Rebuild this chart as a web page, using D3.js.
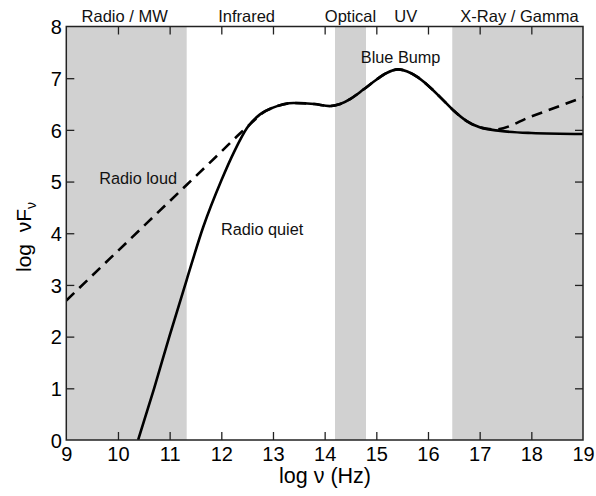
<!DOCTYPE html>
<html><head><meta charset="utf-8">
<script src="https://cdn.jsdelivr.net/npm/d3@7"></script>
<style>body{margin:0;background:#fff}svg{display:block}text{font-family:"Liberation Sans",Arial,Helvetica,sans-serif}</style>
</head><body>
<svg id="c" width="596" height="496"></svg>
<script>
// Data
const xTicks = [9,10,11,12,13,14,15,16,17,18,19];
const yTicks = [0,1,2,3,4,5,6,7,8];
const bands = [
  {name:"Radio / MW", x0:9, x1:11.33, shaded:true, labelX:10.13},
  {name:"Infrared", x0:11.33, x1:14.2, shaded:false, labelX:12.49},
  {name:"Optical", x0:14.2, x1:14.8, shaded:true, labelX:14.5},
  {name:"UV", x0:14.8, x1:16.47, shaded:false, labelX:15.57},
  {name:"X-Ray / Gamma", x0:16.47, x1:19, shaded:true, labelX:17.77}
];
const quietX = [10.39,10.7,11.0,11.33,11.65,12.0,12.25,12.5,12.75,13.0,13.4,13.8,14.1,14.3,14.5,14.75,15.0,15.2,15.42,15.6,15.8,16.0,16.25,16.5,16.75,17.0,17.4,18.0,19.0];
const quietY = [0,1.0,2.02,3.1,4.12,5.02,5.58,6.04,6.3,6.43,6.52,6.5,6.46,6.5,6.6,6.78,6.97,7.1,7.17,7.13,7.02,6.86,6.62,6.37,6.17,6.05,5.98,5.94,5.92];
const loudX = [9,10,11,12.0,12.35,12.6,12.8,13.0,13.4,13.8,14.1,14.3,14.5,14.75,15.0,15.2,15.42,15.6,15.8,16.0,16.25,16.5,16.75,17.0,17.3,18.0,19.0];
const loudY = [2.7,3.66,4.62,5.58,5.92,6.15,6.33,6.43,6.52,6.5,6.46,6.5,6.6,6.78,6.97,7.1,7.17,7.13,7.02,6.86,6.62,6.37,6.17,6.05,6.01,6.26,6.63];
const labels = [
  {text:"Radio loud", x:10.39, y:4.95},
  {text:"Radio quiet", x:12.79, y:3.97},
  {text:"Blue Bump", x:15.47, y:7.3}
];

const svg = d3.select("#c");
const L=66.3, R=583, T=26.5, B=440;
const x = d3.scaleLinear().domain([9,19]).range([L,R]);
const y = d3.scaleLinear().domain([0,8]).range([B,T]);

svg.append("defs").append("clipPath").attr("id","clip")
  .append("rect").attr("x",L).attr("y",T).attr("width",R-L).attr("height",B-T);

// bands
svg.append("g").selectAll("rect").data(bands.filter(d=>d.shaded)).join("rect")
  .attr("x",d=>x(d.x0)).attr("width",d=>x(d.x1)-x(d.x0))
  .attr("y",T).attr("height",B-T).attr("fill","#d1d1d1");

// band labels
svg.append("g").selectAll("text").data(bands).join("text")
  .attr("x",d=>x(d.labelX)).attr("y",22).attr("text-anchor","middle")
  .attr("font-size","16.5px").attr("fill","#111").text(d=>d.name);

// curves
const line = d3.line().x(d=>x(d[0])).y(d=>y(d[1])).curve(d3.curveMonotoneX);
const g = svg.append("g").attr("clip-path","url(#clip)");
g.append("path").datum(quietX.map((v,i)=>[v,quietY[i]]))
  .attr("d",line).attr("fill","none").attr("stroke","#000").attr("stroke-width",2.6);
g.append("path").datum(loudX.map((v,i)=>[v,loudY[i]]))
  .attr("d",line).attr("fill","none").attr("stroke","#000").attr("stroke-width",2.6)
  .attr("stroke-dasharray","11,7");

// labels
svg.append("g").selectAll("text").data(labels).join("text")
  .attr("x",d=>x(d.x)).attr("y",d=>y(d.y)).attr("text-anchor","middle")
  .attr("font-size","16.3px").attr("fill","#111").text(d=>d.text);

// axes
function styleAxis(sel){
  sel.select(".domain").remove();
  sel.selectAll(".tick line").attr("stroke","#222").attr("stroke-width",1.3);
}
const ax = svg.append("g").attr("transform",`translate(0,${B})`)
  .call(d3.axisBottom(x).tickValues(xTicks).tickSizeInner(-8).tickSizeOuter(0).tickFormat(d3.format("d")));
styleAxis(ax);
ax.selectAll(".tick line").filter(d=>d===9||d===19).remove();
ax.selectAll("text").attr("y",21).attr("dy",0).attr("font-size","20px").attr("fill","#000")
  .attr("font-family","'Liberation Sans',Arial,sans-serif");

const axT = svg.append("g").attr("transform",`translate(0,${T})`)
  .call(d3.axisTop(x).tickValues(xTicks).tickSizeInner(-8).tickSizeOuter(0).tickFormat(""));
styleAxis(axT);
axT.selectAll(".tick line").filter(d=>d===9||d===19).remove();

const ay = svg.append("g").attr("transform",`translate(${L},0)`)
  .call(d3.axisLeft(y).tickValues(yTicks).tickSizeInner(-8).tickSizeOuter(0).tickFormat(d3.format("d")));
styleAxis(ay);
ay.selectAll(".tick line").filter(d=>d===0||d===8).remove();
ay.selectAll("text").attr("x",-4.5).attr("dy","0.36em").attr("font-size","20px").attr("fill","#000")
  .attr("font-family","'Liberation Sans',Arial,sans-serif");

const ayR = svg.append("g").attr("transform",`translate(${R},0)`)
  .call(d3.axisRight(y).tickValues(yTicks).tickSizeInner(-8).tickSizeOuter(0).tickFormat(""));
styleAxis(ayR);
ayR.selectAll(".tick line").filter(d=>d===0||d===8).remove();

// frame
svg.append("rect").attr("x",L).attr("y",T).attr("width",R-L).attr("height",B-T)
  .attr("fill","none").attr("stroke","#222").attr("stroke-width",1.5);

// axis titles
svg.append("text").attr("x",325).attr("y",483).attr("text-anchor","middle")
  .attr("font-size","21.5px").attr("fill","#000").text("log ν (Hz)");
const yt = svg.append("text").attr("transform","translate(31,237) rotate(-90)")
  .attr("text-anchor","middle").attr("font-size","21px").attr("fill","#000");
yt.append("tspan").text("log\u00A0\u00A0νF");
yt.append("tspan").attr("font-size","14px").attr("dy","5").text("ν");
</script>
</body></html>
